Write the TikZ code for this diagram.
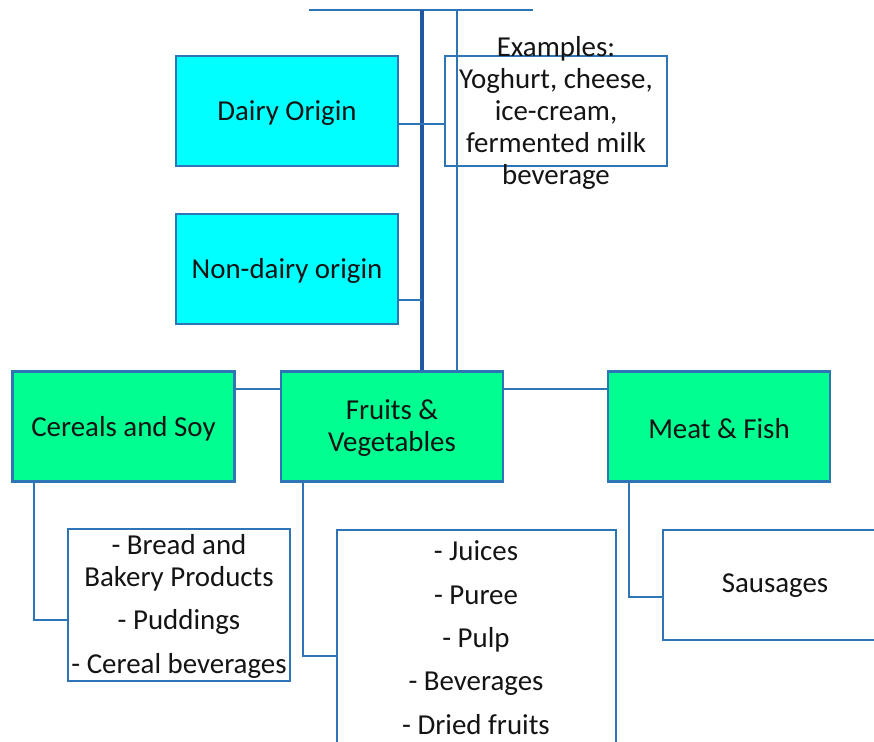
\documentclass[tikz,border=0pt]{standalone}
\usepackage{fontspec}
\setmainfont{Carlito}
\definecolor{lineblue}{RGB}{46,117,182}
\definecolor{darkblue}{RGB}{31,88,160}
\definecolor{cyanfill}{RGB}{0,255,255}
\definecolor{greenfill}{RGB}{0,255,144}
\definecolor{txt}{RGB}{20,20,20}
\begin{document}
\begin{tikzpicture}[x=1bp,y=-1bp,
  box/.style={draw=lineblue, line width=2.4bp, inner sep=0pt, minimum width=222bp, minimum height=110bp},
  bluebox/.style={box, fill=cyanfill},
  greenbox/.style={box, fill=greenfill},
  whitebox/.style={box, fill=white},
  lbl/.style={text=txt, font=\fontsize{29}{32}\selectfont, align=center, inner sep=0pt},
  conn/.style={draw=lineblue, line width=2.4bp},
  thickconn/.style={draw=darkblue, line width=4.5bp}]
\clip (0,0) rectangle (874,742);
\fill[white] (0,0) rectangle (874,742);
% top boxes
\node[bluebox] (dairy) at (287,111) {};
\node[lbl] (dairyt) at (287,113) {Dairy Origin};
\node[whitebox] (ex) at (556,111) {};
\node[bluebox] (nond) at (287,269) {};
\node[lbl] (nondt) at (287,271) {Non-dairy origin};
% middle row
\node[greenbox] (cer) at (123.5,426.5) {};
\node[lbl] (cert) at (123.5,428.5) {Cereals and Soy};
\node[greenbox] (fru) at (392,426.5) {};
\node[lbl] (frut) at (392,428) {Fruits \&\\Vegetables};
\node[greenbox] (meat) at (719,426.5) {};
\node[lbl] (meatt) at (719,428.5) {Meat \& Fish};
% bottom boxes
\node[whitebox, minimum width=222bp, minimum height=152bp] (sb1) at (179,605) {};
\node[whitebox, minimum width=279bp, minimum height=230bp] (sb2) at (476.5,645) {};
\node[whitebox, minimum width=237bp, minimum height=110bp] (sb3) at (781.5,585) {};
% connectors
\coordinate (tl) at (309,10);
\coordinate (tr) at (533,10);
\coordinate (t1) at (422,10);
\coordinate (t2) at (457,10);
\draw[draw=lineblue, line width=1.4bp] (tl) -- (tr);
\draw[thickconn] (t1) -- (t1 |- fru.north);
\draw[conn] (t2) -- (t2 |- fru.north);
\draw[conn] ([yshift=-13bp]dairy.east) -- ([yshift=-13bp]ex.west);
\coordinate (nd) at ([yshift=-31bp]nond.east);
\draw[conn] (nd) -- (nd -| t1);
\draw[conn] ([yshift=37.5bp]cer.east) -- ([yshift=37.5bp]fru.west);
\draw[conn] ([yshift=37.5bp]fru.east) -- ([yshift=37.5bp]meat.west);
\coordinate (c1) at ([yshift=-15bp]sb1.west);
\coordinate (c2) at ([yshift=-11bp]sb2.west);
\coordinate (c3) at ([yshift=-12bp]sb3.west);
\draw[conn] ([xshift=23bp]cer.south west) |- (c1);
\draw[conn] ([xshift=23bp]fru.south west) |- (c2);
\draw[conn] ([xshift=22bp]meat.south west) |- (c3);
% texts over boxes
\node[lbl] (ext) at (556,113) {Examples:\\Yoghurt, cheese,\\ice-cream,\\fermented milk\\beverage};
\node[lbl] (sb1t) at (179,606.5) {- Bread and\\Bakery Products\\[12bp]- Puddings\\[12bp]- Cereal beverages};
\node[lbl, font=\fontsize{29}{43.5}\selectfont] (sb2t) at (476,637.5) {- Juices\\- Puree\\- Pulp\\- Beverages\\- Dried fruits};
\node[lbl] (sb3t) at (775,586) {Sausages};
\end{tikzpicture}
\end{document}
